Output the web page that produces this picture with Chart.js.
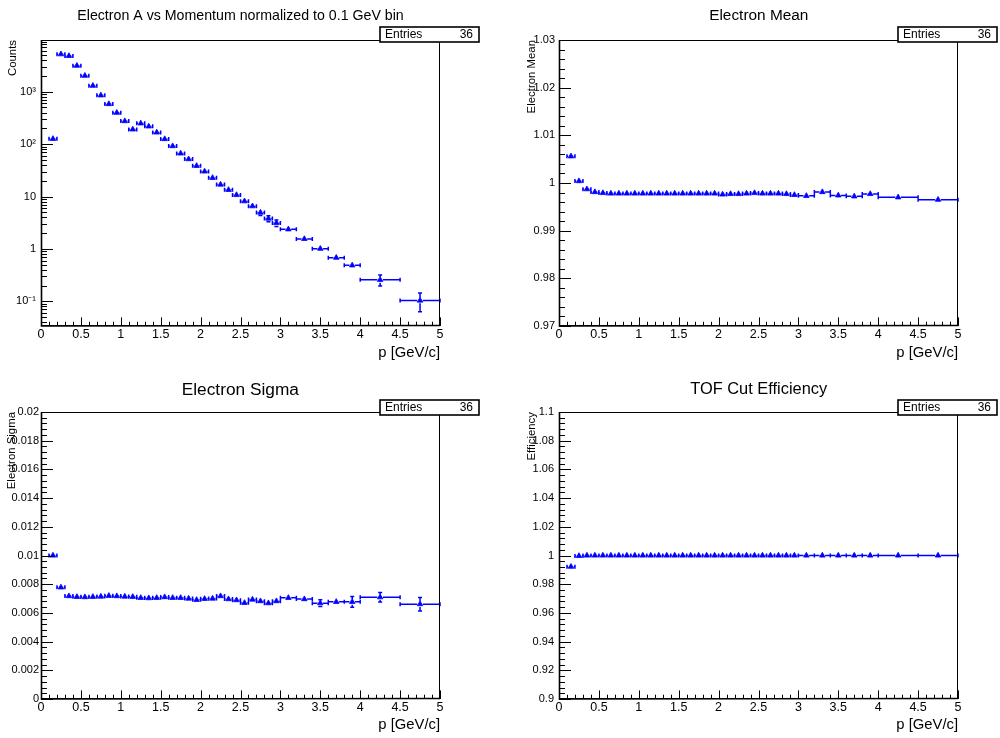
<!DOCTYPE html>
<html>
<head>
<meta charset="utf-8">
<script src="https://cdn.jsdelivr.net/npm/chart.js@4.4.1/dist/chart.umd.min.js"></script>
<style>
  body { margin: 0; background: #fff; width: 1000px; height: 738px; position: relative; overflow: hidden; }
  canvas { position: absolute; }
</style>
</head>
<body>
<canvas id="c1" width="500" height="369" style="left:0;top:0"></canvas>
<canvas id="c2" width="500" height="369" style="left:500px;top:0"></canvas>
<canvas id="c3" width="500" height="369" style="left:0;top:369px"></canvas>
<canvas id="c4" width="500" height="369" style="left:500px;top:369px"></canvas>
<script>
// momentum bins (GeV/c), 36 bins
const binEdges = [0.1, 0.2, 0.3, 0.4, 0.5, 0.6, 0.7, 0.8, 0.9, 1.0,
                  1.1, 1.2, 1.3, 1.4, 1.5, 1.6, 1.7, 1.8, 1.9, 2.0,
                  2.1, 2.2, 2.3, 2.4, 2.5, 2.6, 2.7, 2.8, 2.9, 3.0,
                  3.2, 3.4, 3.6, 3.8, 4.0, 4.5, 5.0];

const countsVals = [126, 5190, 4820, 3140, 2020, 1300, 853, 582, 397, 275,
                    191, 249, 218, 167, 125, 91.6, 66.4, 51.7, 38.5, 30.1,
                    22.7, 16.9, 13.4, 10.7, 8.13, 6.53, 4.94, 3.80, 3.13,
                    2.37, 1.55, 1.01, 0.68, 0.486, 0.257, 0.1035];
const countsErr = [4, 25, 24, 20, 16, 13, 10, 8, 7, 5.5,
                   4.5, 5, 5, 4, 3.5, 3, 2.5, 2.2, 1.9, 1.7,
                   1.4, 1.2, 1.1, 0.9, 0.8, 0.7, 0.6, 0.5, 0.45,
                   0.2, 0.13, 0.09, 0.06, 0.05, 0.06, 0.04];

const meanVals = [1.0056, 1.0004, 0.9987, 0.9981, 0.9979, 0.9978, 0.9978, 0.9978, 0.9978, 0.9978,
                  0.9978, 0.9978, 0.9978, 0.9978, 0.9978, 0.9978, 0.9978, 0.9978, 0.9978, 0.9976,
                  0.9977, 0.9977, 0.9978, 0.9979, 0.9978, 0.9978, 0.9978, 0.9977, 0.9975,
                  0.9973, 0.9981, 0.9974, 0.9972, 0.9977, 0.9970, 0.9965];
const meanErr = [0.0002, 0.0001, 0.00005, 0.00005, 0.00005, 0.00005, 0.00005, 0.00005, 0.00005, 0.00005,
                 0.00005, 0.00005, 0.00005, 0.00005, 0.00005, 0.00005, 0.00005, 0.00005, 0.00005, 0.00005,
                 0.00005, 0.00005, 0.00005, 0.00005, 0.00005, 0.00005, 0.00005, 0.00005, 0.00005,
                 0.0001, 0.0001, 0.0001, 0.0001, 0.0001, 0.0002, 0.0002];

const sigmaVals = [0.01000, 0.00778, 0.00717, 0.00712, 0.00710, 0.00712, 0.00714, 0.00719, 0.00717, 0.00714,
                   0.00712, 0.00705, 0.00703, 0.00705, 0.00710, 0.00705, 0.00705, 0.00700, 0.00691, 0.00698,
                   0.00700, 0.00717, 0.00696, 0.00689, 0.00670, 0.00693, 0.00682, 0.00668, 0.00682,
                   0.00705, 0.00696, 0.00668, 0.00677, 0.00677, 0.00709, 0.00661];
const sigmaErr = [0.00008, 0.00005, 0.00004, 0.00004, 0.00004, 0.00004, 0.00004, 0.00004, 0.00004, 0.00005,
                  0.00005, 0.00005, 0.00005, 0.00005, 0.00006, 0.00006, 0.00006, 0.00007, 0.00007, 0.00008,
                  0.00008, 0.00009, 0.0001, 0.0001, 0.00011, 0.00012, 0.00013, 0.00014, 0.00015,
                  0.00012, 0.00015, 0.00024, 0.00019, 0.00038, 0.00033, 0.00047];

const effVals = [0.9922, 0.9997, 1, 1, 1, 1, 1, 1, 1, 1,
                 1, 1, 1, 1, 1, 1, 1, 1, 1, 1,
                 1, 1, 1, 1, 1, 1, 1, 1, 1,
                 1, 1, 1, 1, 1, 1, 1];
const effErr = [0.0005, 0.0002, 0, 0, 0, 0, 0, 0, 0, 0,
                0, 0, 0, 0, 0, 0, 0, 0, 0, 0,
                0, 0, 0, 0, 0, 0, 0, 0, 0,
                0, 0, 0, 0, 0, 0, 0];

const xTicks = [0, 0.5, 1, 1.5, 2, 2.5, 3, 3.5, 4, 4.5, 5];
const xTickLabels = ['0', '0.5', '1', '1.5', '2', '2.5', '3', '3.5', '4', '4.5', '5'];
const countsTicks = [0.1, 1, 10, 100, 1000];
const countsTickLabels = ['10\u207B\u00B9', '1', '10', '10\u00B2', '10\u00B3'];
const meanTicks = [0.97, 0.98, 0.99, 1, 1.01, 1.02, 1.03];
const meanTickLabels = ['0.97', '0.98', '0.99', '1', '1.01', '1.02', '1.03'];
const sigmaTicks = [0, 0.002, 0.004, 0.006, 0.008, 0.01, 0.012, 0.014, 0.016, 0.018, 0.02];
const sigmaTickLabels = ['0', '0.002', '0.004', '0.006', '0.008', '0.01', '0.012', '0.014', '0.016', '0.018', '0.02'];
const effTicks = [0.9, 0.92, 0.94, 0.96, 0.98, 1, 1.02, 1.04, 1.06, 1.08, 1.1];
const effTickLabels = ['0.9', '0.92', '0.94', '0.96', '0.98', '1', '1.02', '1.04', '1.06', '1.08', '1.1'];
const entries = 36;

const BLUE = '#0000ff';
const FONT = "'Liberation Sans', Arial, Helvetica, sans-serif";
Chart.defaults.font.family = FONT;
Chart.defaults.color = '#000';

const centers = binEdges.slice(0, -1).map((e, i) => (e + binEdges[i + 1]) / 2);

const panels = [
  { id: 'c1', title: 'Electron A vs Momentum normalized to 0.1 GeV bin', titleSize: 14.2, titleX: 240.5, titleY: 16,
    yTitle: 'Counts', vals: countsVals, errs: countsErr, log: true, yMin: 0.0338, yMax: 9700,
    yTicks: countsTicks, yLabels: countsTickLabels,
    area: { left: 41, right: 440, top: 40, bottom: 326 }, yLabelPad: 5, yTitlePad: 6.5, xTitlePad: 7.7, box: { x: 380, y: 27 } },
  { id: 'c2', title: 'Electron Mean', titleSize: 15.4, titleX: 258.8, titleY: 16,
    yTitle: 'Electron Mean', vals: meanVals, errs: meanErr, log: false, yMin: 0.97, yMax: 1.03, yMinor: 0.002,
    yTicks: meanTicks, yLabels: meanTickLabels,
    area: { left: 59, right: 458, top: 40, bottom: 326 }, yLabelPad: 4, yTitlePad: 25.5, xTitlePad: 7.7, box: { x: 398, y: 27 } },
  { id: 'c3', title: 'Electron Sigma', titleSize: 17.3, titleX: 240.3, titleY: 21,
    yTitle: 'Electron Sigma', vals: sigmaVals, errs: sigmaErr, log: false, yMin: 0, yMax: 0.02, yMinor: 0.0004,
    yTicks: sigmaTicks, yLabels: sigmaTickLabels,
    area: { left: 41, right: 440, top: 43, bottom: 330 }, yLabelPad: 2, yTitlePad: 4.9, xTitlePad: 4.1, box: { x: 380, y: 31 } },
  { id: 'c4', title: 'TOF Cut Efficiency', titleSize: 16.4, titleX: 258.7, titleY: 20.3,
    yTitle: 'Efficiency', vals: effVals, errs: effErr, log: false, yMin: 0.9, yMax: 1.1, yMinor: 0.004,
    yTicks: effTicks, yLabels: effTickLabels,
    area: { left: 59, right: 458, top: 43, bottom: 330 }, yLabelPad: 5, yTitlePad: 24.9, xTitlePad: 4.1, box: { x: 398, y: 31 } }
];

function yMinorValues(p) {
  const out = [];
  if (p.log) {
    for (let e = -2; e <= 4; e++) {
      for (let k = 2; k <= 9; k++) {
        const v = k * Math.pow(10, e);
        if (v > p.yMin && v < p.yMax) out.push(v);
      }
    }
  } else {
    const n = Math.round((p.yMax - p.yMin) / p.yMinor);
    for (let k = 0; k <= n; k++) out.push(p.yMin + k * p.yMinor);
  }
  return out;
}

function rootPlugin(p) {
  return {
    id: 'rootStyle',
    beforeDatasetsDraw(chart) {
      // error bars
      const ctx = chart.ctx, xs = chart.scales.x, ys = chart.scales.y;
      const m = 2.8, cap = 2;
      ctx.save();
      ctx.strokeStyle = BLUE;
      ctx.lineWidth = 1.5;
      ctx.beginPath();
      p.vals.forEach((v, i) => {
        const xl = xs.getPixelForValue(binEdges[i]);
        const xh = xs.getPixelForValue(binEdges[i + 1]);
        const xc = xs.getPixelForValue(centers[i]);
        const yc = ys.getPixelForValue(v);
        if (xc - m > xl) { ctx.moveTo(xl, yc); ctx.lineTo(xc - m, yc); }
        if (xh > xc + m) { ctx.moveTo(xc + m, yc); ctx.lineTo(xh, yc); }
        ctx.moveTo(xl, yc - cap); ctx.lineTo(xl, yc + cap);
        ctx.moveTo(xh, yc - cap); ctx.lineTo(xh, yc + cap);
        const e = p.errs[i];
        if (e > 0) {
          const yt = ys.getPixelForValue(v + e);
          const lo = v - e;
          const yb = lo > 0 || !p.log ? ys.getPixelForValue(lo) : chart.chartArea.bottom;
          if (yc - yt > m) { ctx.moveTo(xc, yc - m); ctx.lineTo(xc, yt); ctx.moveTo(xc - cap, yt); ctx.lineTo(xc + cap, yt); }
          if (yb - yc > m) { ctx.moveTo(xc, yc + m); ctx.lineTo(xc, yb); ctx.moveTo(xc - cap, yb); ctx.lineTo(xc + cap, yb); }
        }
      });
      ctx.stroke();
      ctx.restore();
    },
    afterDraw(chart) {
      const ctx = chart.ctx, xs = chart.scales.x, ys = chart.scales.y;
      const a = chart.chartArea;
      ctx.save();
      // frame
      ctx.strokeStyle = '#000';
      ctx.lineWidth = 1;
      ctx.strokeRect(Math.round(a.left) + 0.5, Math.round(a.top) + 0.5,
                     Math.round(a.right - a.left) - 1, Math.round(a.bottom - a.top) - 1);
      ctx.lineWidth = 1.6;
      ctx.beginPath();
      ctx.moveTo(a.left + 0.5, a.top); ctx.lineTo(a.left + 0.5, a.bottom);
      ctx.lineTo(a.right, a.bottom - 0.5);
      ctx.stroke();
      // ticks, drawn inward like ROOT
      ctx.lineWidth = 1;
      ctx.beginPath();
      const xMaj = (a.bottom - a.top) * 0.03, yMaj = (a.right - a.left) * 0.03;
      for (let k = 0; k <= 50; k++) {
        const v = k / 10;
        const px = Math.round(xs.getPixelForValue(v)) + 0.5;
        const len = k % 5 === 0 ? xMaj : xMaj / 2;
        ctx.moveTo(px, a.bottom); ctx.lineTo(px, a.bottom - len);
      }
      yMinorValues(p).forEach(v => {
        const py = Math.round(ys.getPixelForValue(v)) + 0.5;
        ctx.moveTo(a.left, py); ctx.lineTo(a.left + yMaj / 2, py);
      });
      p.yTicks.forEach(v => {
        const py = Math.round(ys.getPixelForValue(v)) + 0.5;
        ctx.moveTo(a.left, py); ctx.lineTo(a.left + yMaj, py);
      });
      ctx.stroke();
      // title
      ctx.fillStyle = '#000';
      ctx.font = p.titleSize + 'px ' + FONT;
      ctx.textAlign = 'center';
      ctx.textBaseline = 'middle';
      ctx.fillText(p.title, p.titleX, p.titleY);
      // stats box
      const bw = 99, bh = 15;
      ctx.fillStyle = '#fff';
      ctx.fillRect(p.box.x, p.box.y, bw, bh);
      ctx.lineWidth = 1.6;
      ctx.strokeStyle = '#000';
      ctx.strokeRect(p.box.x, p.box.y, bw, bh);
      ctx.fillStyle = '#000';
      ctx.font = '12px ' + FONT;
      ctx.textAlign = 'left';
      ctx.fillText('Entries', p.box.x + 5, p.box.y + bh / 2 + 0.5);
      ctx.textAlign = 'right';
      ctx.fillText(String(entries), p.box.x + bw - 6, p.box.y + bh / 2 + 0.5);
      ctx.restore();
    }
  };
}

panels.forEach(p => {
  const area = p.area;
  new Chart(document.getElementById(p.id), {
    type: 'scatter',
    data: {
      datasets: [{
        data: centers.map((x, i) => ({ x: x, y: p.vals[i] })),
        pointStyle: 'triangle',
        pointRadius: 3.2,
        pointHoverRadius: 3.2,
        backgroundColor: BLUE,
        borderColor: BLUE,
        borderWidth: 0.8
      }]
    },
    options: {
      responsive: false,
      animation: false,
      devicePixelRatio: 1,
      events: [],
      layout: { padding: { left: 0, right: 500 - area.right, top: area.top, bottom: 0 } },
      plugins: { legend: { display: false }, tooltip: { enabled: false }, title: { display: false } },
      scales: {
        x: {
          type: 'linear', position: 'bottom', min: 0, max: 5,
          afterFit: s => { s.height = 369 - area.bottom; },
          afterBuildTicks: s => { s.ticks = xTicks.map(v => ({ value: v })); },
          grid: { display: false, drawTicks: false },
          border: { display: false },
          ticks: { autoSkip: false, maxRotation: 0, padding: 1, color: '#000', font: { size: 12.5 },
                   callback: (v, i) => xTickLabels[i] },
          title: { display: true, text: 'p [GeV/c]', align: 'end', color: '#000', font: { size: 14.8 },
                   padding: { top: 0, bottom: p.xTitlePad } }
        },
        y: {
          type: p.log ? 'logarithmic' : 'linear', position: 'left', min: p.yMin, max: p.yMax,
          afterFit: s => { s.width = area.left; },
          afterBuildTicks: s => { s.ticks = p.yTicks.map(v => ({ value: v })); },
          grid: { display: false, drawTicks: false },
          border: { display: false },
          ticks: { autoSkip: false, padding: p.yLabelPad, color: '#000', font: { size: 11 },
                   callback: (v, i) => p.yLabels[i] },
          title: { display: true, text: p.yTitle, align: 'end', color: '#000', font: { size: 11.4 },
                   padding: { top: p.yTitlePad, bottom: 0 } }
        }
      }
    },
    plugins: [rootPlugin(p)]
  });
});
</script>
</body>
</html>
